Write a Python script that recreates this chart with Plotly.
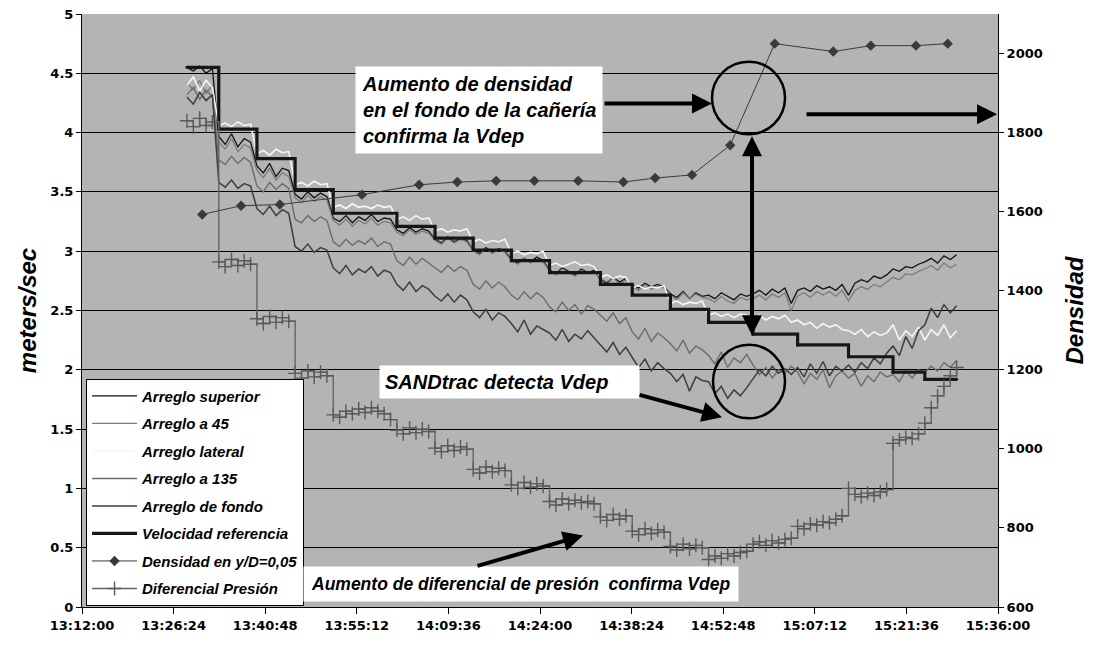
import plotly.graph_objects as go
import pandas as pd

BASE = pd.Timestamp("2000-01-01 13:12:00")


def tm(m):
    return BASE + pd.Timedelta(minutes=m)


# readings: one per minute, minutes after 13:12:00
T_MIN = [16.5 + i for i in range(122)]

arreglo_superior = [
    4.55, 4.52, 4.56, 4.50, 4.54,
    3.97, 3.90, 3.99, 3.88, 3.95, 3.92,
    3.72, 3.66, 3.74, 3.63, 3.70, 3.68,
    3.48, 3.44, 3.50, 3.45, 3.49, 3.46,
    3.28, 3.25, 3.30, 3.24, 3.29, 3.26, 3.31, 3.25, 3.28, 3.27,
    3.18, 3.15, 3.20, 3.16, 3.19, 3.17,
    3.10, 3.07, 3.12, 3.08, 3.11, 3.09,
    3.01, 2.98, 3.03, 2.99, 3.02, 3.00,
    2.93, 2.90, 2.94, 2.91, 2.95, 2.92,
    2.84, 2.81, 2.86, 2.83, 2.80, 2.85, 2.82, 2.84,
    2.76, 2.73, 2.78, 2.74, 2.77,
    2.71, 2.69, 2.73, 2.70, 2.72, 2.70,
    2.64, 2.61, 2.66, 2.60, 2.65, 2.62,
    2.63, 2.60, 2.65, 2.62, 2.59, 2.64, 2.62,
    2.64, 2.67, 2.63, 2.68, 2.65, 2.69, 2.56,
    2.67, 2.69, 2.66, 2.71, 2.68, 2.70, 2.67, 2.72,
    2.63, 2.73, 2.76, 2.74, 2.79, 2.77, 2.80,
    2.85, 2.83, 2.87, 2.86, 2.89,
    2.91, 2.94, 2.90, 2.96, 2.93, 2.97,
]

arreglo_45 = [
    4.42, 4.36, 4.44, 4.33, 4.40,
    3.92, 3.86, 3.95, 3.84, 3.90, 3.87,
    3.68, 3.62, 3.70, 3.60, 3.66, 3.63,
    3.45, 3.41, 3.47, 3.42, 3.46, 3.43,
    3.26, 3.22, 3.27, 3.21, 3.26, 3.23, 3.28, 3.22, 3.25, 3.24,
    3.16, 3.13, 3.18, 3.14, 3.17, 3.15,
    3.09, 3.06, 3.11, 3.07, 3.10, 3.08,
    3.00, 2.97, 3.02, 2.98, 3.01, 2.99,
    2.92, 2.89, 2.94, 2.90, 2.93, 2.91,
    2.83, 2.80, 2.85, 2.82, 2.79, 2.84, 2.81, 2.83,
    2.77, 2.74, 2.78, 2.72, 2.76,
    2.70, 2.67, 2.72, 2.68, 2.71, 2.69,
    2.63, 2.59, 2.65, 2.60, 2.64, 2.61,
    2.60, 2.57, 2.62, 2.58, 2.56, 2.61, 2.59,
    2.60, 2.63, 2.59, 2.64, 2.61, 2.65, 2.50,
    2.62, 2.65, 2.61, 2.66, 2.63, 2.66, 2.62, 2.67,
    2.58, 2.67, 2.70, 2.68, 2.72, 2.70, 2.74,
    2.78, 2.76, 2.81, 2.80, 2.83,
    2.85, 2.88, 2.84, 2.90, 2.86, 2.89,
]

arreglo_lateral = [
    4.40, 4.47, 4.35, 4.44, 4.38,
    4.06, 4.08, 4.05, 4.09, 4.06, 4.07,
    3.82, 3.85, 3.81, 3.86, 3.83, 3.84,
    3.56, 3.58, 3.55, 3.59, 3.56, 3.57,
    3.37, 3.39, 3.36, 3.40, 3.37, 3.38, 3.36, 3.39, 3.37, 3.38,
    3.27, 3.29, 3.26, 3.30, 3.27, 3.28,
    3.17, 3.19, 3.16, 3.18, 3.17, 3.19,
    3.08, 3.10, 3.07, 3.09, 3.08, 3.10,
    2.98, 3.00, 2.97, 2.99, 2.98, 3.00,
    2.88, 2.90, 2.87, 2.89, 2.91, 2.88, 2.89, 2.87,
    2.78, 2.80, 2.77, 2.79, 2.78,
    2.69, 2.71, 2.68, 2.70, 2.69, 2.71,
    2.56, 2.58, 2.55, 2.57, 2.56, 2.58,
    2.46, 2.48, 2.45, 2.47, 2.44, 2.47, 2.46,
    2.44, 2.46, 2.42, 2.45, 2.43, 2.46, 2.40,
    2.42, 2.38, 2.40, 2.35, 2.39, 2.36, 2.38, 2.34,
    2.33, 2.30, 2.34, 2.28, 2.32, 2.29, 2.31,
    2.38, 2.25, 2.33, 2.28, 2.36,
    2.25, 2.34, 2.29, 2.38, 2.27, 2.33,
]

arreglo_135 = [
    4.32, 4.38, 4.28, 4.36, 4.30,
    3.77, 3.73, 3.80, 3.74, 3.79, 3.75,
    3.55, 3.50, 3.58, 3.52, 3.57, 3.53,
    3.27, 3.24, 3.30, 3.25, 3.29, 3.26,
    3.08, 3.04, 3.10, 3.05, 3.09, 3.06, 3.11, 3.04, 3.08, 3.06,
    2.92, 2.88, 2.95, 2.89, 2.94, 2.90,
    2.86, 2.82, 2.88, 2.83, 2.87, 2.84,
    2.72, 2.68, 2.75, 2.69, 2.74, 2.70,
    2.63, 2.59, 2.66, 2.60, 2.65, 2.61,
    2.53, 2.49, 2.57, 2.50, 2.55, 2.47, 2.54, 2.51,
    2.46, 2.41, 2.48, 2.39, 2.44,
    2.32, 2.26, 2.35, 2.24, 2.31, 2.27,
    2.22, 2.16, 2.25, 2.14, 2.20, 2.17,
    2.12, 2.05, 2.15, 2.02, 2.10, 2.06, 2.13,
    2.04, 1.96, 2.02, 1.93, 2.00, 1.97, 2.03,
    1.98, 1.88, 1.97, 1.92, 2.00, 1.85, 1.95, 1.99,
    1.93, 1.97, 1.86, 1.95, 1.90, 1.98, 1.94,
    1.96, 1.90, 1.99, 1.93, 2.00,
    1.98, 2.03, 1.99, 2.06, 2.02, 2.08,
]

arreglo_fondo = [
    4.30, 4.24, 4.34, 4.27, 4.32,
    3.58, 3.54, 3.60, 3.53, 3.57, 3.55,
    3.36, 3.31, 3.38, 3.30, 3.35, 3.32,
    3.04, 3.00, 3.06, 2.99, 3.03, 3.01,
    2.86, 2.81, 2.88, 2.80, 2.85, 2.82, 2.87, 2.79, 2.84, 2.82,
    2.72, 2.67, 2.74, 2.66, 2.71, 2.68,
    2.62, 2.58, 2.64, 2.57, 2.63, 2.59,
    2.49, 2.44, 2.51, 2.42, 2.48, 2.45,
    2.39, 2.32, 2.42, 2.30, 2.37, 2.34,
    2.31, 2.25, 2.34, 2.24, 2.30, 2.26, 2.33, 2.27,
    2.21, 2.15, 2.23, 2.13, 2.19,
    2.10, 2.02, 2.09, 1.99, 2.06, 2.01,
    1.97, 1.90, 1.96, 1.82, 1.94, 1.91,
    1.90, 1.80, 1.86, 1.76, 1.83, 1.78, 1.85,
    1.92, 2.00, 1.95, 2.03, 1.97, 2.01, 1.96,
    2.02, 1.94, 2.05, 1.97, 2.07, 1.95, 2.03, 1.99,
    2.04, 1.98, 2.06, 2.01, 2.10, 2.05, 2.14,
    2.20, 2.12, 2.28, 2.18, 2.33,
    2.38, 2.52, 2.44, 2.55, 2.48, 2.54,
]

diferencial_presion = [
    4.10, 4.05, 4.12, 4.06, 4.09,
    2.91, 2.87, 2.93, 2.88, 2.92, 2.89,
    2.43, 2.39, 2.45, 2.40, 2.44, 2.41,
    1.97, 1.93, 1.99, 1.94, 1.98, 1.95,
    1.62, 1.60, 1.65, 1.63, 1.67, 1.64, 1.68, 1.65, 1.63, 1.58,
    1.49, 1.46, 1.51, 1.47, 1.50, 1.48,
    1.34, 1.31, 1.36, 1.32, 1.35, 1.33,
    1.16, 1.13, 1.18, 1.14, 1.17, 1.15,
    1.03, 1.00, 1.05, 1.01, 1.04, 1.02,
    0.89, 0.86, 0.91, 0.87, 0.90, 0.88, 0.89, 0.87,
    0.76, 0.73, 0.78, 0.74, 0.77,
    0.64, 0.61, 0.66, 0.62, 0.65, 0.63,
    0.51, 0.48, 0.53, 0.49, 0.52, 0.50,
    0.40, 0.43, 0.41, 0.45, 0.43, 0.46, 0.47,
    0.53, 0.55, 0.52, 0.56, 0.54, 0.57, 0.58,
    0.68, 0.66, 0.70, 0.69, 0.72, 0.71, 0.74, 0.77,
    1.00, 0.95, 0.93, 0.96, 0.94, 0.97, 0.99,
    1.38, 1.41, 1.43, 1.42, 1.46,
    1.55, 1.68, 1.78, 1.86, 1.95, 2.02,
]

# reference velocity: step changes (minutes after 13:12:00)
ref_t_min = [16.5, 21.5, 27.5, 33.5, 39.5, 49.5, 55.5, 61.5, 67.5, 73.5,
             81.5, 86.5, 92.5, 98.5, 105.5, 112.5, 120.5, 127.5, 132.5, 137.5]
velocidad_ref = [4.55, 4.03, 3.78, 3.52, 3.32, 3.21, 3.11, 3.01, 2.92, 2.82,
                 2.72, 2.63, 2.51, 2.40, 2.30, 2.21, 2.11, 1.98, 1.92, 1.92]

# density samples at y/D = 0.05 (right axis)
dens_t_min = [18.9, 25.0, 31.1, 44.0, 53.0, 59.0, 65.1, 71.1, 78.0, 85.1,
              90.1, 95.9, 101.9, 108.9, 118.1, 124.0, 131.1, 136.1]
densidad = [1593, 1615, 1618, 1643, 1668, 1675, 1678, 1678, 1678, 1675,
            1685, 1693, 1768, 2025, 2005, 2020, 2020, 2025]

x_tick_labels = ["13:12:00", "13:26:24", "13:40:48", "13:55:12", "14:09:36", "14:24:00",
                 "14:38:24", "14:52:48", "15:07:12", "15:21:36", "15:36:00"]

T = [tm(m) for m in T_MIN]

fig = go.Figure()

velocity_series = [
    ("Arreglo superior", arreglo_superior, "#111111", 1.3),
    ("Arreglo a 45", arreglo_45, "#7c7c7c", 1.3),
    ("Arreglo lateral", arreglo_lateral, "#f6f6f6", 1.6),
    ("Arreglo a 135", arreglo_135, "#6c6c6c", 1.4),
    ("Arreglo de fondo", arreglo_fondo, "#3e3e3e", 1.5),
]
for i, (name, vals, col, w) in enumerate(velocity_series):
    fig.add_trace(go.Scatter(x=T, y=vals, name=name, mode="lines",
                             line=dict(color=col, width=w),
                             legendgroup=f"g{i}"))

fig.add_trace(go.Scatter(x=[tm(m) for m in ref_t_min], y=velocidad_ref,
                         name="Velocidad referencia", mode="lines+markers",
                         line=dict(color="#161616", width=3.2, shape="hv"),
                         marker=dict(size=3, color="#161616"),
                         legendgroup="g5"))

fig.add_trace(go.Scatter(x=[tm(m) for m in dens_t_min], y=densidad, yaxis="y2",
                         name="Densidad en y/D=0,05", mode="lines+markers",
                         line=dict(color="#3a3a3a", width=1),
                         marker=dict(symbol="diamond", size=8, color="#3a3a3a"),
                         legendgroup="g6"))

fig.add_trace(go.Scatter(x=T, y=diferencial_presion, name="Diferencial Presión",
                         mode="lines+markers",
                         line=dict(color="#646464", width=1.4, shape="hv"),
                         marker=dict(symbol="cross-thin", size=10,
                                     line=dict(width=1.4, color="#5a5a5a")),
                         legendgroup="g7"))

BI = dict(family="Liberation Sans, Arial, sans-serif", color="black",
          weight="bold", style="italic")
TICKF = dict(family="DejaVu Sans, sans-serif", size=13, color="black", weight="bold")

annotations = [
    dict(text="Aumento de densidad<br>en el fondo de la cañería<br>confirma la Vdep",
         x=tm(42.92), y=4.565, xanchor="left", yanchor="top", align="left",
         width=234, borderpad=6, font=dict(BI, size=20)),
    dict(text="SANDtrac detecta Vdep",
         x=tm(46.69), y=2.044, xanchor="left", yanchor="top", align="left",
         width=249, borderpad=5, font=dict(BI, size=20)),
    dict(text="Aumento de diferencial de presión\u00a0 confirma Vdep",
         x=tm(34.74), y=0.343, xanchor="left", yanchor="top", align="left",
         width=420, borderpad=7, font=dict(BI, size=17.5)),
]
for a in annotations:
    a.update(xref="x", yref="y", showarrow=False, bgcolor="white")


def arrow(xh, yh, xt, yt, side="end"):
    return dict(x=tm(xh), y=yh, ax=tm(xt), ay=yt, xref="x", yref="y",
                axref="x", ayref="y", text="", showarrow=True, arrowhead=2,
                arrowsize=1.0, arrowwidth=4, arrowcolor="black", arrowside=side,
                standoff=0, startstandoff=0)


annotations += [
    arrow(99.04, 4.246, 81.91, 4.246),
    arrow(143.85, 4.154, 113.66, 4.154),
    arrow(105.33, 3.97, 105.33, 2.278, side="end+start"),
    arrow(100.61, 1.600, 87.41, 1.792),
    arrow(78.76, 0.603, 61.94, 0.343),
]

shapes = [
    dict(type="circle", xref="x", yref="y", x0=tm(99.04), x1=tm(110.52),
         y0=3.987, y1=4.598, line=dict(color="black", width=2.5)),
    dict(type="circle", xref="x", yref="y", x0=tm(99.20), x1=tm(110.52),
         y0=1.591, y1=2.211, line=dict(color="black", width=2.5)),
]

# the page body adds an 8px offset, so the figure is drawn 8px smaller
fig.update_layout(
    width=1087, height=638,
    margin=dict(l=74, r=97, t=6, b=39),
    paper_bgcolor="white", plot_bgcolor="#b4b4b4",
    showlegend=True,
    legend=dict(x=0.0044, y=0.385, xanchor="left", yanchor="top",
                bgcolor="white", bordercolor="black", borderwidth=1,
                font=dict(BI, size=15), traceorder="grouped", tracegroupgap=5,
                itemwidth=45),
    xaxis=dict(type="date", range=[tm(0), tm(144)], automargin=False,
               tickvals=[tm(14.4 * k) for k in range(11)], ticktext=x_tick_labels,
               ticks="outside", ticklen=6, tickcolor="black",
               showline=True, linecolor="black", linewidth=1,
               showgrid=False, zeroline=False, tickfont=TICKF),
    yaxis=dict(range=[0, 5], dtick=0.5, showgrid=True, gridcolor="black", gridwidth=1,
               automargin=False, ticklabeloverflow="allow",
               ticks="outside", ticklen=5, tickcolor="black",
               showline=True, linecolor="black", linewidth=1, zeroline=False,
               tickfont=TICKF,
               title=dict(text="meters/sec", font=dict(BI, size=24), standoff=6)),
    yaxis2=dict(overlaying="y", side="right", range=[600, 2100], automargin=False,
                tickvals=[600, 800, 1000, 1200, 1400, 1600, 1800, 2000],
                ticks="outside", ticklen=5, tickcolor="black",
                showline=True, linecolor="black", linewidth=1,
                showgrid=False, zeroline=False, tickfont=TICKF,
                title=dict(text="Densidad", font=dict(BI, size=24), standoff=24)),
    annotations=annotations,
    shapes=shapes,
)

fig.write_html("out.html")
